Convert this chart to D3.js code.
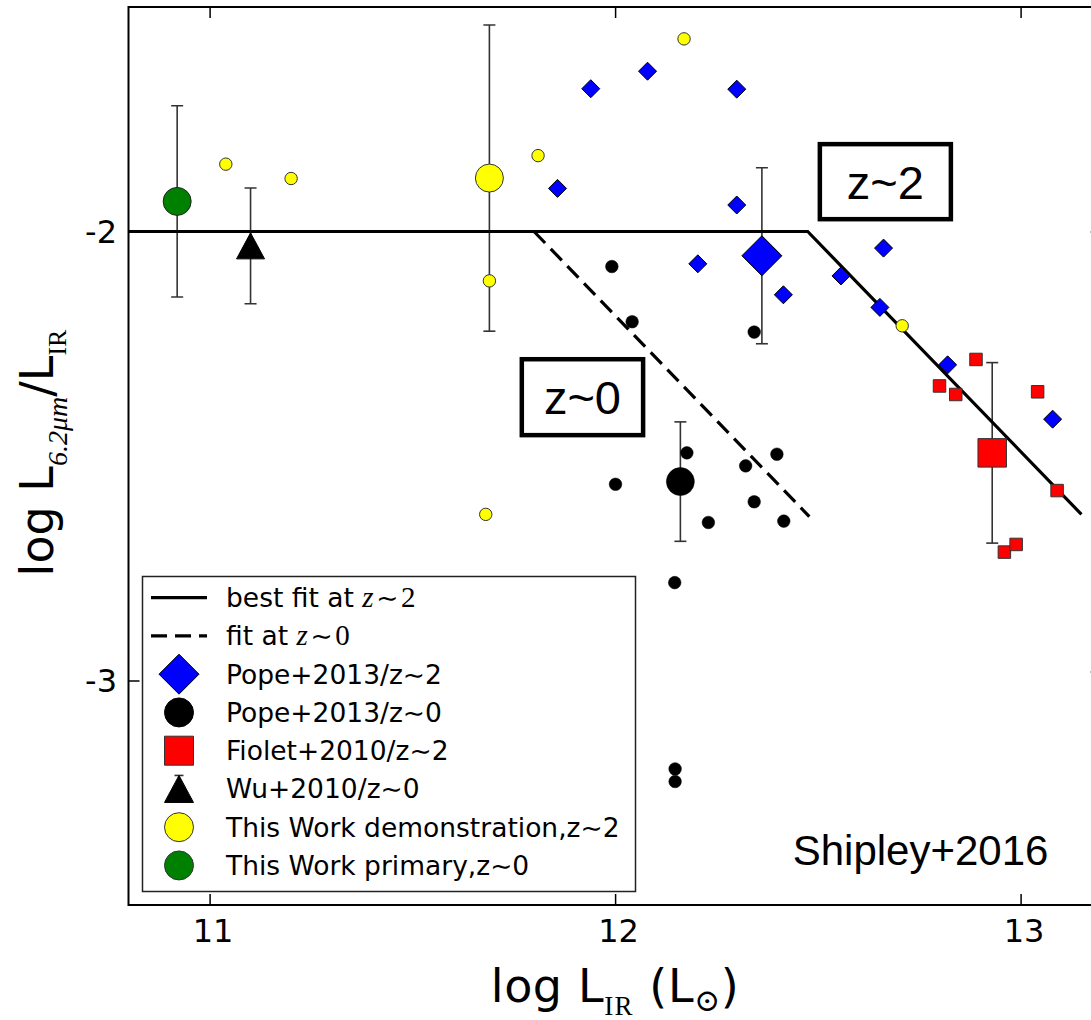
<!DOCTYPE html>
<html><head><meta charset="utf-8">
<script src="https://cdn.jsdelivr.net/npm/d3@7"></script>
<style>body{margin:0;background:#fff;} svg{display:block;background:#fff}</style>
</head><body><svg id="chart" width="1091" height="1020"></svg>
<script>
// ---------- data (log L_IR , log L6.2/L_IR) ----------
const xTicks = [11, 12, 13];
const yTicks = [-2, -3];
const yTicksRight = [-2, -2.98];

const fitZ2 = [[10.8, -2.0], [12.475, -2.0], [13.15, -2.630]];
const fitZ0 = [[11.8, -2.0], [12.479, -2.635]];

const pope2013z2 = [[11.940,-1.682],[12.080,-1.643],[12.300,-1.683],[11.858,-1.904],[12.300,-1.941],
  [12.204,-2.072],[12.415,-2.141],[12.662,-2.037],[12.557,-2.099],[12.653,-2.169],[12.820,-2.297],[13.079,-2.418]];
const pope2013z2Mean = [[12.362,-2.054,0.196]];

const pope2013z0 = [[11.992,-2.078],[12.042,-2.201],[12.343,-2.224],[12.177,-2.493],[12.001,-2.563],
  [12.322,-2.522],[12.399,-2.496],[12.343,-2.602],[12.230,-2.648],[12.416,-2.645],[12.147,-2.782],
  [12.148,-3.197],[12.148,-3.225]];
const pope2013z0Mean = [[12.161,-2.557,0.133]];

const fiolet2010 = [[12.890,-2.285],[12.800,-2.344],[12.840,-2.363],[13.042,-2.357],[13.090,-2.577],
  [12.960,-2.714],[12.989,-2.697]];
const fiolet2010Mean = [[12.930,-2.493,0.201]];

const wu2010 = [[11.101,-2.032,0.129]];

const demoZ2 = [[11.040,-1.850],[11.201,-1.882],[11.810,-1.831],[12.170,-1.571],[11.690,-2.110],
  [11.681,-2.630],[12.708,-2.210]];
const demoZ2Mean = [[11.690,-1.881,0.341]];

const primaryZ0 = [[10.920,-1.933,0.213]];

const boxes = [
  {label:"z~2", x0:12.500, x1:12.833, y0:-1.801, y1:-1.977},
  {label:"z~0", x0:11.765, x1:12.074, y0:-2.280, y1:-2.458}
];

// ---------- setup ----------
const svg = d3.select("#chart");
const W = 1091, H = 1020;
svg.append("rect").attr("width", W).attr("height", H).attr("fill", "#fff");

const x = d3.scaleLinear().domain([10.8, 13.2]).range([128.5, 1101.7]);
const y = d3.scaleLinear().domain([-3.5, -1.5]).range([905, 7]);
const X0 = x.range()[0], X1 = x.range()[1], Y0 = y.range()[1], Y1 = y.range()[0];

const SANS = "'DejaVu Sans', sans-serif";
const SERIF = "'Liberation Serif', 'DejaVu Serif', serif";
const ARIAL = "'Liberation Sans', Arial, sans-serif";

svg.append("defs").append("clipPath").attr("id","clip")
  .append("rect").attr("x", X0).attr("y", Y0).attr("width", X1 - X0).attr("height", Y1 - Y0);

// ---------- axes (inward ticks on all sides) ----------
const TL = 11;
const axB = d3.axisBottom(x).tickValues(xTicks).tickSizeInner(-TL).tickSizeOuter(0).tickFormat(d3.format("d")).tickPadding(14);
const gB = svg.append("g").attr("transform", `translate(0,${Y1})`).call(axB);
gB.select(".domain").remove();
gB.selectAll("line").attr("stroke", "#000").attr("stroke-width", 1.5);
gB.selectAll("text").attr("font-family", SANS).attr("font-size", 32).attr("fill","#000")
  .attr("dx", 3).attr("y", 0).attr("dy", 0).attr("transform", "translate(0,37)");

const axT = d3.axisTop(x).tickValues(xTicks).tickSizeInner(-TL).tickSizeOuter(0).tickFormat("");
const gT = svg.append("g").attr("transform", `translate(0,${Y0})`).call(axT);
gT.select(".domain").remove();
gT.selectAll("line").attr("stroke", "#000").attr("stroke-width", 1.5);

const axL = d3.axisLeft(y).tickValues(yTicks).tickSizeInner(-TL).tickSizeOuter(0).tickFormat(d3.format("d")).tickPadding(10);
const gL = svg.append("g").attr("transform", `translate(${X0},0)`).call(axL);
gL.select(".domain").remove();
gL.selectAll("line").attr("stroke", "#000").attr("stroke-width", 1.5);
gL.selectAll("text").attr("font-family", SANS).attr("font-size", 32).attr("fill","#000")
  .attr("x", 117 - X0).attr("dy", "0.33em").text(d => "-" + Math.abs(d));

const axR = d3.axisRight(y).tickValues(yTicksRight).tickSizeInner(-TL).tickSizeOuter(0).tickFormat("");
const gR = svg.append("g").attr("transform", `translate(${X1},0)`).call(axR);
gR.select(".domain").remove();
gR.selectAll("line").attr("stroke", "#000").attr("stroke-width", 1.5);

// frame
svg.append("rect").attr("x", X0).attr("y", Y0).attr("width", X1 - X0).attr("height", Y1 - Y0)
  .attr("fill", "none").attr("stroke", "#000").attr("stroke-width", 2);

const plot = svg.append("g").attr("clip-path", "url(#clip)");

// ---------- error bars ----------
const errSets = [pope2013z2Mean, pope2013z0Mean, fiolet2010Mean, wu2010, demoZ2Mean, primaryZ0];
const errData = errSets.flat();
const eg = plot.append("g").attr("stroke", "#333").attr("stroke-width", 1.6).attr("fill","none");
errData.forEach(d => {
  const cx = x(d[0]), top = y(d[1] + d[2]), bot = y(d[1] - d[2]);
  eg.append("line").attr("x1", cx).attr("x2", cx).attr("y1", top).attr("y2", bot);
  eg.append("line").attr("x1", cx - 6).attr("x2", cx + 6).attr("y1", top).attr("y2", top);
  eg.append("line").attr("x1", cx - 6).attr("x2", cx + 6).attr("y1", bot).attr("y2", bot);
});

// ---------- fit lines ----------
const line = d3.line().x(d => x(d[0])).y(d => y(d[1]));
plot.append("path").datum(fitZ2).attr("d", line).attr("fill","none").attr("stroke","#000").attr("stroke-width", 3.2);
plot.append("path").datum(fitZ0).attr("d", line).attr("fill","none").attr("stroke","#000").attr("stroke-width", 3.2)
  .attr("stroke-dasharray", "16,8");

// ---------- markers ----------
const diamond = h => `M0,${-h}L${h},0L0,${h}L${-h},0Z`;
const square = s => `M${-s/2},${-s/2}h${s}v${s}h${-s}Z`;
const tri = (w, h) => `M0,${-h/2}L${w/2},${h/2}L${-w/2},${h/2}Z`;

function drawPaths(data, pathStr, fill, stroke, sw) {
  plot.append("g").selectAll("path").data(data).join("path")
    .attr("transform", d => `translate(${x(d[0])},${y(d[1])})`)
    .attr("d", pathStr).attr("fill", fill).attr("stroke", stroke).attr("stroke-width", sw);
}
function drawCircles(data, r, fill, stroke, sw) {
  plot.append("g").selectAll("circle").data(data).join("circle")
    .attr("cx", d => x(d[0])).attr("cy", d => y(d[1])).attr("r", r)
    .attr("fill", fill).attr("stroke", stroke).attr("stroke-width", sw);
}

drawCircles(demoZ2, 6.2, "#ffff00", "#333", 1);
drawCircles(demoZ2Mean, 14, "#ffff00", "#333", 1);
drawCircles(primaryZ0, 14, "#008000", "#222", 1);
drawPaths(wu2010, tri(28, 26), "#000", "#000", 1);
drawCircles(pope2013z0, 6.3, "#000", "#000", 0.5);
drawCircles(pope2013z0Mean, 14, "#000", "#000", 0.5);
drawPaths(pope2013z2, diamond(9), "#0000ff", "#000", 1);
drawPaths(pope2013z2Mean, diamond(20), "#0000ff", "#000", 1);
drawPaths(fiolet2010, square(12.5), "#ff0000", "#333", 1);
drawPaths(fiolet2010Mean, square(28.5), "#ff0000", "#333", 1);

// ---------- annotation boxes ----------
boxes.forEach(b => {
  const bx0 = x(b.x0), bx1 = x(b.x1), by0 = y(b.y0), by1 = y(b.y1);
  svg.append("rect").attr("x", bx0 + 2).attr("y", by0 + 2).attr("width", bx1 - bx0 - 4).attr("height", by1 - by0 - 4)
    .attr("fill", "#fff").attr("stroke", "#000").attr("stroke-width", 4.5);
  svg.append("text").attr("x", (bx0 + bx1) / 2).attr("y", (by0 + by1) / 2 + 17)
    .attr("text-anchor", "middle").attr("font-family", ARIAL).attr("font-size", 47).attr("fill", "#000").text(b.label);
});

svg.append("text").attr("x", x(12.438)).attr("y", y(-3.411)).attr("font-family", ARIAL).attr("font-size", 42)
  .attr("fill", "#000").text("Shipley+2016");

// ---------- legend ----------
const HS = "\u200A";
const legendItems = [
  {type:"line", parts:[["best fit at ", SANS, 26.5, "normal"], ["z", SERIF, 29, "italic"], [HS + "∼" + HS, SANS, 26.5, "normal"], ["2", SERIF, 29, "normal"]]},
  {type:"dash", parts:[["fit at ", SANS, 26.5, "normal"], ["z", SERIF, 29, "italic"], [HS + "∼" + HS, SANS, 26.5, "normal"], ["0", SERIF, 29, "normal"]]},
  {type:"diamond", parts:[["Pope+2013/z∼2", SANS, 26.5, "normal"]]},
  {type:"circle", color:"#000", parts:[["Pope+2013/z∼0", SANS, 26.5, "normal"]]},
  {type:"square", parts:[["Fiolet+2010/z∼2", SANS, 26.5, "normal"]]},
  {type:"triangle", parts:[["Wu+2010/z∼0", SANS, 26.5, "normal"]]},
  {type:"circle", color:"#ffff00", parts:[["This Work demonstration,z∼2", SANS, 26.5, "normal"]]},
  {type:"circle", color:"#008000", parts:[["This Work primary,z∼0", SANS, 26.5, "normal"]]}
];
const lg = svg.append("g");
lg.append("rect").attr("x", 142.5).attr("y", 576.5).attr("width", 493).attr("height", 315)
  .attr("fill", "#fff").attr("stroke", "#222").attr("stroke-width", 1.5);
legendItems.forEach((it, i) => {
  const cy = 597.7 + i * 38.25, mx = 179;
  if (it.type === "line" || it.type === "dash") {
    lg.append("line").attr("x1", 151).attr("x2", 207).attr("y1", cy).attr("y2", cy)
      .attr("stroke", "#000").attr("stroke-width", 3.2).attr("stroke-dasharray", it.type === "dash" ? "16,8" : null);
  } else if (it.type === "diamond") {
    lg.append("path").attr("transform", `translate(${mx},${cy})`).attr("d", diamond(20))
      .attr("fill", "#0000ff").attr("stroke", "#000").attr("stroke-width", 1);
  } else if (it.type === "circle") {
    lg.append("circle").attr("cx", mx).attr("cy", cy).attr("r", 14.5)
      .attr("fill", it.color).attr("stroke", it.color === "#000" ? "#000" : "#333").attr("stroke-width", 1);
  } else if (it.type === "square") {
    lg.append("path").attr("transform", `translate(${mx},${cy})`).attr("d", square(29))
      .attr("fill", "#ff0000").attr("stroke", "#333").attr("stroke-width", 1);
  } else if (it.type === "triangle") {
    lg.append("line").attr("x1", mx).attr("x2", mx).attr("y1", cy - 13.5).attr("y2", cy + 13.5).attr("stroke", "#333").attr("stroke-width", 1.6);
    lg.append("line").attr("x1", mx - 4.5).attr("x2", mx + 4.5).attr("y1", cy - 13.5).attr("y2", cy - 13.5).attr("stroke", "#333").attr("stroke-width", 1.6);
    lg.append("path").attr("transform", `translate(${mx},${cy})`).attr("d", tri(29, 27))
      .attr("fill", "#000").attr("stroke", "#000").attr("stroke-width", 1);
  }
  const t = lg.append("text").attr("x", 226).attr("y", cy + 9.5).attr("fill", "#000");
  it.parts.forEach(p => t.append("tspan").attr("font-family", p[1]).attr("font-size", p[2]).attr("font-style", p[3]).text(p[0]));
});

// ---------- axis labels ----------
const xl = svg.append("text").attr("x", 615).attr("y", 1002).attr("text-anchor", "middle").attr("fill", "#000")
  .attr("font-family", SANS).attr("font-size", 46).attr("letter-spacing", 0.6);
xl.append("tspan").text("log L");
xl.append("tspan").attr("font-family", SERIF).attr("font-size", 27).attr("dy", 13).attr("letter-spacing", 1.5).text("IR");
xl.append("tspan").attr("dy", -13).text(" (L");
xl.append("tspan").attr("font-family", SERIF).attr("font-size", 31).attr("dy", 9).text("⊙");
xl.append("tspan").attr("dy", -9).text(")");

const yl = svg.append("text").attr("transform", "translate(53,453) rotate(-90)").attr("text-anchor", "middle")
  .attr("fill", "#000").attr("font-family", SANS).attr("font-size", 46);
yl.append("tspan").text("log L");
yl.append("tspan").attr("font-family", SERIF).attr("font-size", 28).attr("font-style", "italic").attr("dy", 14).text("6.2μm");
yl.append("tspan").attr("dy", -14).text("/L");
yl.append("tspan").attr("font-family", SERIF).attr("font-size", 26).attr("dy", 13).text("IR");
</script></body></html>
